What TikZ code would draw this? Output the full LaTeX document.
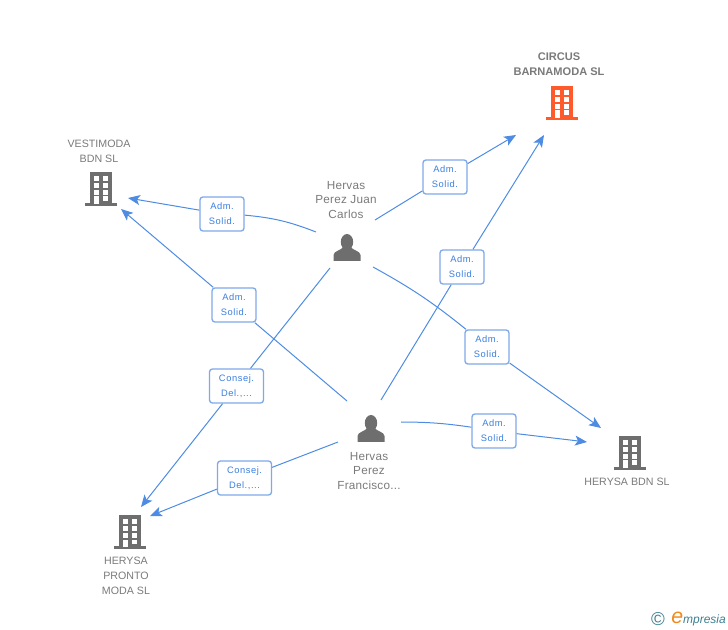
\documentclass[tikz,border=0pt]{standalone}
\usepackage{fontspec}
\setmainfont{Liberation Sans}
\usetikzlibrary{arrows.meta}
\definecolor{linkblue}{HTML}{3A7FE0}
\definecolor{boxblue}{HTML}{7FAAEA}
\definecolor{icongray}{HTML}{6E6E6E}
\definecolor{icontext}{HTML}{7A7A7A}
\definecolor{iconred}{HTML}{FF5A2C}
\definecolor{logoteal}{HTML}{3E7F92}
\definecolor{logoorange}{HTML}{F08A1E}
\tikzset{
  link/.style={draw=linkblue!90!white, line width=0.75pt},
  arrowlink/.style={link, -{Stealth[length=9pt,width=7.5pt,inset=2.2pt]}},
  role/.style={draw=boxblue, line width=1pt, rounded corners=2.2pt, fill=white, minimum width=33pt, minimum height=25.5pt,
    inner sep=0pt, align=center, text=linkblue, font=\fontsize{7}{11.2}\selectfont\addfontfeature{LetterSpace=6}},
  widerole/.style={role, minimum width=40.5pt},
  coname/.style={align=center, text=icontext, inner sep=0pt, font=\fontsize{8}{11.2}\selectfont},
  pname/.style={align=center, text=icontext, inner sep=0pt, font=\fontsize{8.8}{11.2}\selectfont\addfontfeature{LetterSpace=2}},
  building/.pic={
    \fill[pic actions] (-11,-34) rectangle (11,-2);
    \fill[pic actions] (-16,-3) rectangle (16,0);
    \foreach \cy in {-30,-23,-16}
      \foreach \cx in {-7,2}
        \fill[white] (\cx,\cy) rectangle ++(5,4.6);
    \fill[white] (2,-9.5) rectangle ++(5,4.6);
    \fill[white] (-7,-9.5) rectangle ++(5,7.5);
  },
  person/.pic={
    \fill[pic actions] (0,-11) ellipse (6.2 and 8);
    \fill[pic actions] (-13.5,8) -- (-13.5,2) .. controls (-13.5,-2) and (-5,-3) .. (-4,-6) -- (4,-6)
      .. controls (5,-3) and (13.5,-2) .. (13.5,2) -- (13.5,8) -- cycle;
  }
}
\begin{document}
\begin{tikzpicture}[x=0.75pt,y=-0.75pt]
    \useasboundingbox (0,0) rectangle (728,630);

    % draw icons
    \pic[fill=iconred] at (562,120) {building};
    \pic[fill=icongray] at (101,206) {building};
    \pic[fill=icongray] at (630,470) {building};
    \pic[fill=icongray] at (130,549) {building};
    \pic[fill=icongray] at (347,253) {person};
    \pic[fill=icongray] at (371,434) {person};

    % draw company names
    \node[coname, font=\fontsize{8.3}{11.2}\selectfont\bfseries] (circus) at (559,64) {CIRCUS\\BARNAMODA SL};
    \node[coname] (vestimoda) at (99,151) {VESTIMODA\\BDN SL};
    \node[coname] (herysabdn) at (627,482) {HERYSA BDN SL};
    \node[coname] (herysapronto) at (126,576) {HERYSA\\PRONTO\\MODA SL};

    % draw person names
    \node[pname] (juan) at (346,200) {Hervas\\Perez Juan\\Carlos};
    \node[pname] (francisco) at (369,471) {Hervas\\Perez\\Francisco...};

    % free ends of the connectors
    \coordinate (juanw) at (316,232);
    \coordinate (juane) at (375,220);
    \coordinate (juansw) at (330,268);
    \coordinate (juanse) at (373,267);
    \coordinate (franw) at (338,442);
    \coordinate (frannw) at (347,401);
    \coordinate (franne) at (381,400);
    \coordinate (frane) at (401,422);
    \coordinate (circusw) at (516,135);
    \coordinate (circuss) at (544,135);
    \coordinate (vestie) at (128,198);
    \coordinate (vestis) at (121,209);
    \coordinate (bdnn) at (601,428);
    \coordinate (bdnw) at (587,442);
    \coordinate (prontone) at (141,507);
    \coordinate (prontoe) at (150,516);

    % draw role boxes
    \node[role] (r1) at (445,177) {Adm.\\Solid.};
    \node[role] (r2) at (222,214) {Adm.\\Solid.};
    \node[role] (r3) at (234,305) {Adm.\\Solid.};
    \node[role] (r4) at (462,267) {Adm.\\Solid.};
    \node[role] (r5) at (487,347) {Adm.\\Solid.};
    \node[role] (r6) at (494,431) {Adm.\\Solid.};
    \node[widerole] (r7) at (236.5,386) {Consej.\\Del.,...};
    \node[widerole] (r8) at (244.5,478) {Consej.\\Del.,...};

    % draw connectors
    \foreach \a/\b/\c in {juane/r1/circusw, juansw/r7/prontone, frannw/r3/vestis, franne/r4/circuss, franw/r8/prontoe} {
      \draw[link] (\a) -- (\b);
      \draw[arrowlink] (\b) -- (\c);
    }
    \draw[link] (juanw) to[bend right=8] (r2);
    \draw[arrowlink] (r2) -- (vestie);
    \draw[link] (juanse) to[bend left=5] (r5);
    \draw[arrowlink] (r5) -- (bdnn);
    \draw[link] (frane) to[bend left=4] (r6);
    \draw[arrowlink] (r6) -- (bdnw);

    % draw logo
    \node[inner sep=0pt, text=logoteal, font=\fontsize{14}{14}\selectfont] (copyr) at (658,619) {\textcopyright};
    \node[inner sep=0pt, anchor=west, font=\fontsize{9}{9}\selectfont\itshape, text=logoteal] (logo) at (671,619.5)
      {{\color{logoorange}\fontsize{16}{16}\selectfont e}mpresia};
\end{tikzpicture}
\end{document}
